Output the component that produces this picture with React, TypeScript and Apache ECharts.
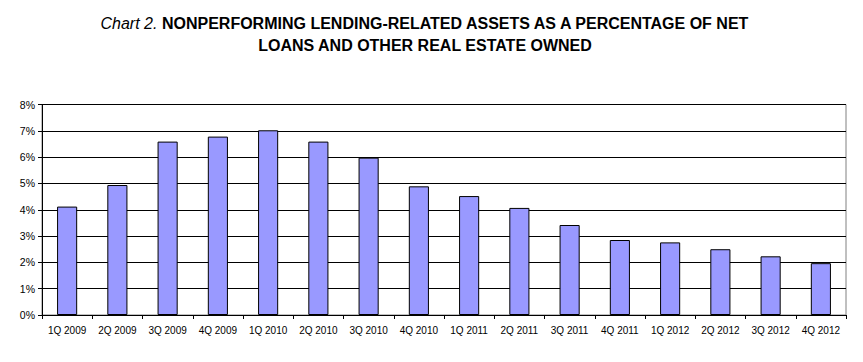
import React, { useEffect, useRef } from "react";
import * as echarts from "echarts";

const categories = [
  "1Q 2009", "2Q 2009", "3Q 2009", "4Q 2009",
  "1Q 2010", "2Q 2010", "3Q 2010", "4Q 2010",
  "1Q 2011", "2Q 2011", "3Q 2011", "4Q 2011",
  "1Q 2012", "2Q 2012", "3Q 2012", "4Q 2012",
];
const values = [4.12, 4.94, 6.59, 6.78, 7.02, 6.59, 5.98, 4.89, 4.52, 4.07, 3.42, 2.85, 2.76, 2.5, 2.23, 1.97];
const yTicks = [0, 1, 2, 3, 4, 5, 6, 7, 8];

export default function App() {
  const ref = useRef<HTMLDivElement>(null);
  useEffect(() => {
    if (!ref.current) return;
    const chart = echarts.init(ref.current, undefined, { renderer: "svg" });
    chart.setOption({
      animation: false,
      backgroundColor: "#ffffff",
      graphic: [
        {
          type: "text",
          x: 425,
          y: 12,
          style: {
            text:
              "{i|Chart 2.} {b|NONPERFORMING LENDING-RELATED ASSETS AS A PERCENTAGE OF NET}\n{b|LOANS AND OTHER REAL ESTATE OWNED}",
            align: "center",
            verticalAlign: "top",
            rich: {
              i: { fontFamily: "Liberation Sans, Arial", fontStyle: "italic", fontWeight: "normal", fontSize: 16, fill: "#000", lineHeight: 22 },
              b: { fontFamily: "Liberation Sans, Arial", fontWeight: "bold", fontSize: 16, fill: "#000", lineHeight: 22 },
            },
          },
        },
      ],
      grid: { left: 42, right: 17, top: 104.5, bottom: 47, show: true, borderColor: "#808080", borderWidth: 1 },
      xAxis: {
        type: "category",
        data: categories,
        axisLine: { lineStyle: { color: "#000", width: 1 } },
        axisTick: { show: true, length: 4, inside: false, lineStyle: { color: "#000" } },
        axisLabel: { color: "#000", fontSize: 10, fontFamily: "Liberation Sans, Arial", margin: 10, interval: 0 },
      },
      yAxis: {
        type: "value",
        min: 0,
        max: 8,
        interval: 1,
        axisLine: { show: true, lineStyle: { color: "#000", width: 1 } },
        axisTick: { show: true, length: 4, lineStyle: { color: "#000" } },
        axisLabel: {
          color: "#000",
          fontSize: 10.5,
          fontFamily: "Liberation Sans, Arial",
          margin: 7,
          formatter: (v: number) => (yTicks.includes(v) ? v + "%" : ""),
        },
        splitLine: { lineStyle: { color: "#000", width: 1 } },
      },
      series: [
        {
          type: "bar",
          data: values,
          barWidth: "40%",
          itemStyle: { color: "#9999ff", borderColor: "#000", borderWidth: 1 },
        },
      ],
    });
    return () => chart.dispose();
  }, []);
  return <div ref={ref} style={{ width: 863, height: 362, margin: -8 }} />;
}
